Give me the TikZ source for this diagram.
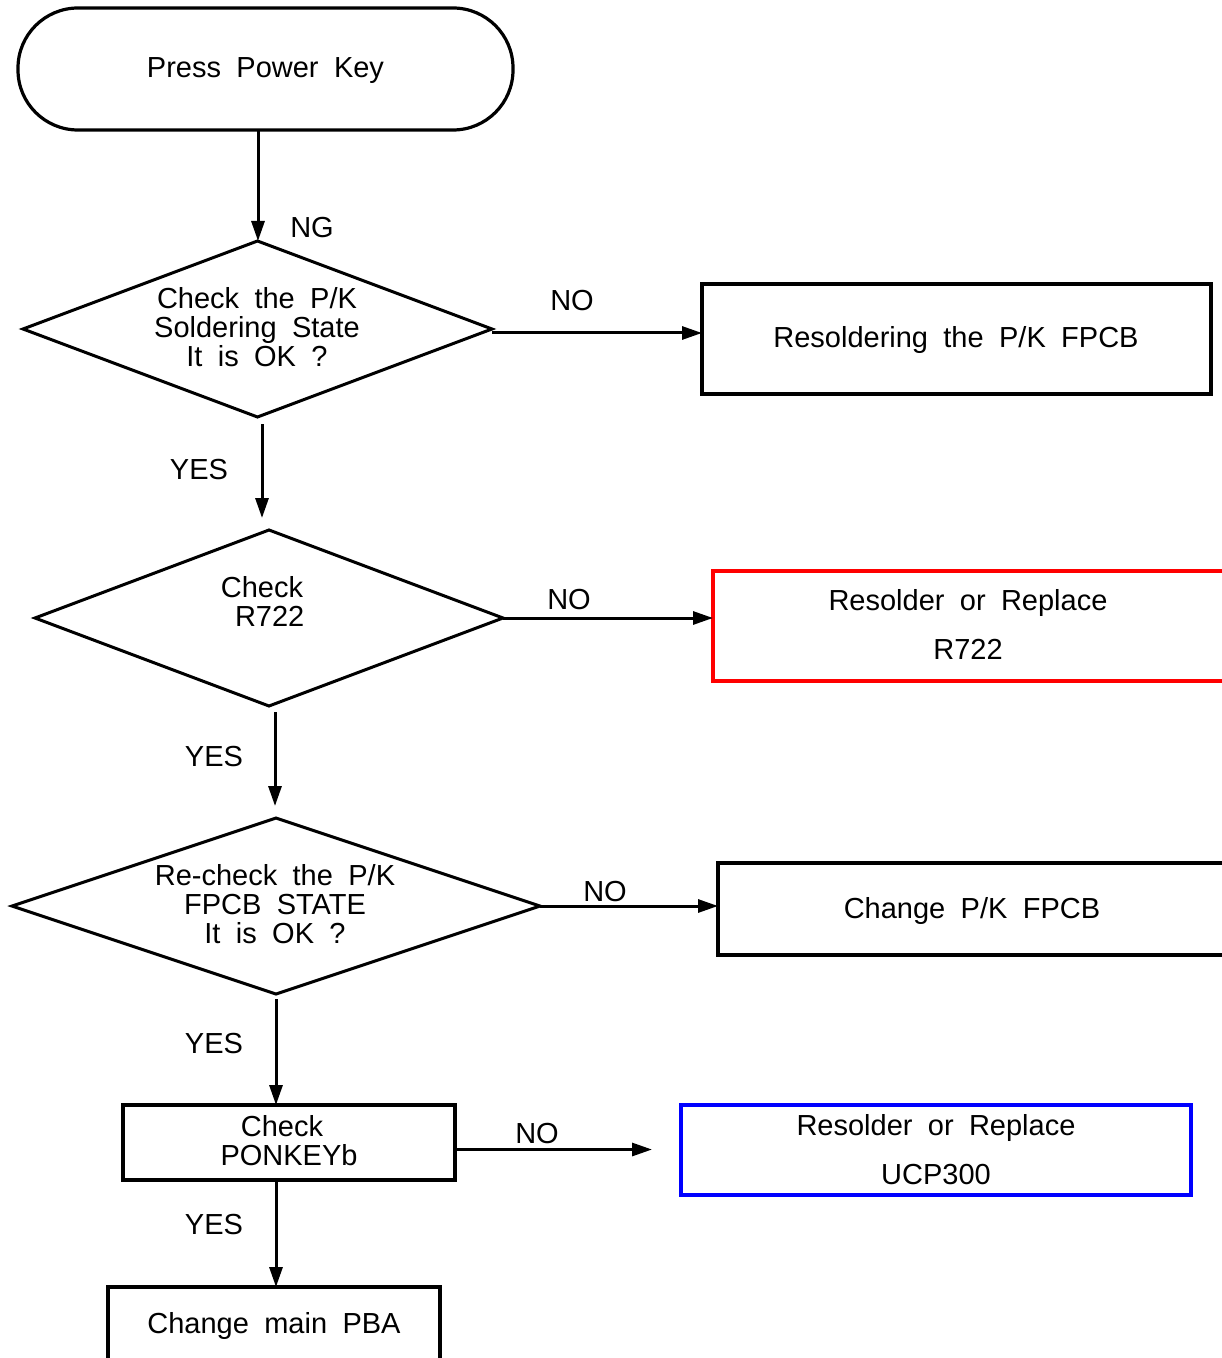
\documentclass[tikz,border=0pt]{standalone}
\usepackage{fontspec}
\setmainfont{Liberation Sans}
\usetikzlibrary{shapes.geometric,arrows.meta}
\protected\def\myfnt{\fontsize{14.5pt}{14.5pt}\selectfont\spaceskip=0.53em plus 0.1em\relax}
\protected\def\myfntb{\fontsize{14.5pt}{24.5pt}\selectfont\spaceskip=0.53em plus 0.1em\relax}
\begin{document}
\begin{tikzpicture}[x=0.5pt,y=-0.5pt,
  every node/.style={font=\myfnt, inner sep=0pt, outer sep=0pt},
  dia/.style={draw, line width=1.5pt, shape=diamond, minimum width=#1, minimum height=88pt},
  box/.style={draw, line width=1.7pt, rectangle},
  arr/.style={line width=1.5pt, -{Triangle[length=10pt,width=6.5pt]}},
  lbl/.style={align=center}
]
\useasboundingbox (0,0) rectangle (1221,1358);
% terminal
\node[box, line width=1.6pt, rounded corners=30pt, minimum width=247.5pt, minimum height=61pt] (t) at (265.5,69) {};
\node (tt) at (265.5,71) {Press Power Key};
% diamonds
\node[dia=234.5pt] (d1) at (257.5,329) {};
\node[lbl] (d1t) at (257,327) {Check the P/K\\Soldering State\\It is OK ?};
\node[dia=234pt] (d2) at (269,618) {};
\node[lbl] (d2t) at (262,601.5) {Check\\\ R722};
\node[dia=264pt] (d3) at (276,906) {};
\node[lbl] (d3t) at (275,904.5) {Re-check the P/K\\FPCB STATE\\It is OK ?};
% boxes
\node[box, minimum width=254.5pt, minimum height=55pt] (b1) at (956.5,339) {};
\node (b1t) at (956,340) {Resoldering the P/K FPCB};
\node[box, draw=red, minimum width=263.5pt, minimum height=55pt] (b2) at (976.5,626) {};
\node[align=center, font=\myfntb] (b2t) at (968,624.5) {Resolder or Replace\\R722};
\node[box, minimum width=261pt, minimum height=46pt] (b3) at (979,909) {};
\node (b3t) at (972,911) {Change P/K FPCB};
\node[box, minimum width=166pt, minimum height=37.5pt] (b4) at (289,1142.5) {};
\node (b4t1) at (282,1126) {Check};
\node (b4t2) at (289,1155) {PONKEYb};
\node[box, draw=blue, minimum width=255pt, minimum height=45pt] (b5) at (936,1150) {};
\node[align=center, font=\myfntb] (b5t) at (936,1149.5) {Resolder or Replace\\UCP300};
\node[box, minimum width=166pt, minimum height=56.5pt] (b6) at (274,1343.5) {};
\node (b6t) at (274,1326) {Change main PBA};
% labels
\node (l1) at (312,228) {NG};
\node (l2) at (572,301) {NO};
\node (l3) at (199,470) {YES};
\node (l4) at (569,600) {NO};
\node (l5) at (214,757) {YES};
\node (l6) at (605,892) {NO};
\node (l7) at (214,1044) {YES};
\node (l8) at (537,1134) {NO};
\node (l9) at (214,1225) {YES};
% connectors
\draw[arr] (t.south -| 258,0) -- (d1.north -| 258,0);
\draw[arr] ([yshift=-2pt]d1.east) -- ([yshift=-2pt]d1.east -| b1.west);
\draw[arr, shorten <=3.5pt, shorten >=6pt] (d1.south -| 262,0) -- (d2.north -| 262,0);
\draw[arr] (d2.east) -- (d2.east -| b2.west);
\draw[arr, shorten <=3pt, shorten >=6pt] (d2.south -| 275,0) -- (d3.north -| 275,0);
\draw[arr] (d3.east) -- (d3.east -| b3.west);
\draw[arr, shorten <=2.5pt] (d3.south) -- (d3.south |- b4.north);
\draw[arr, shorten >=14.5pt] ([yshift=-3.5pt]b4.east) -- ([yshift=-3.5pt]b4.east -| b5.west);
\draw[arr] (d3.south |- b4.south) -- (d3.south |- b6.north);
\end{tikzpicture}
\end{document}
